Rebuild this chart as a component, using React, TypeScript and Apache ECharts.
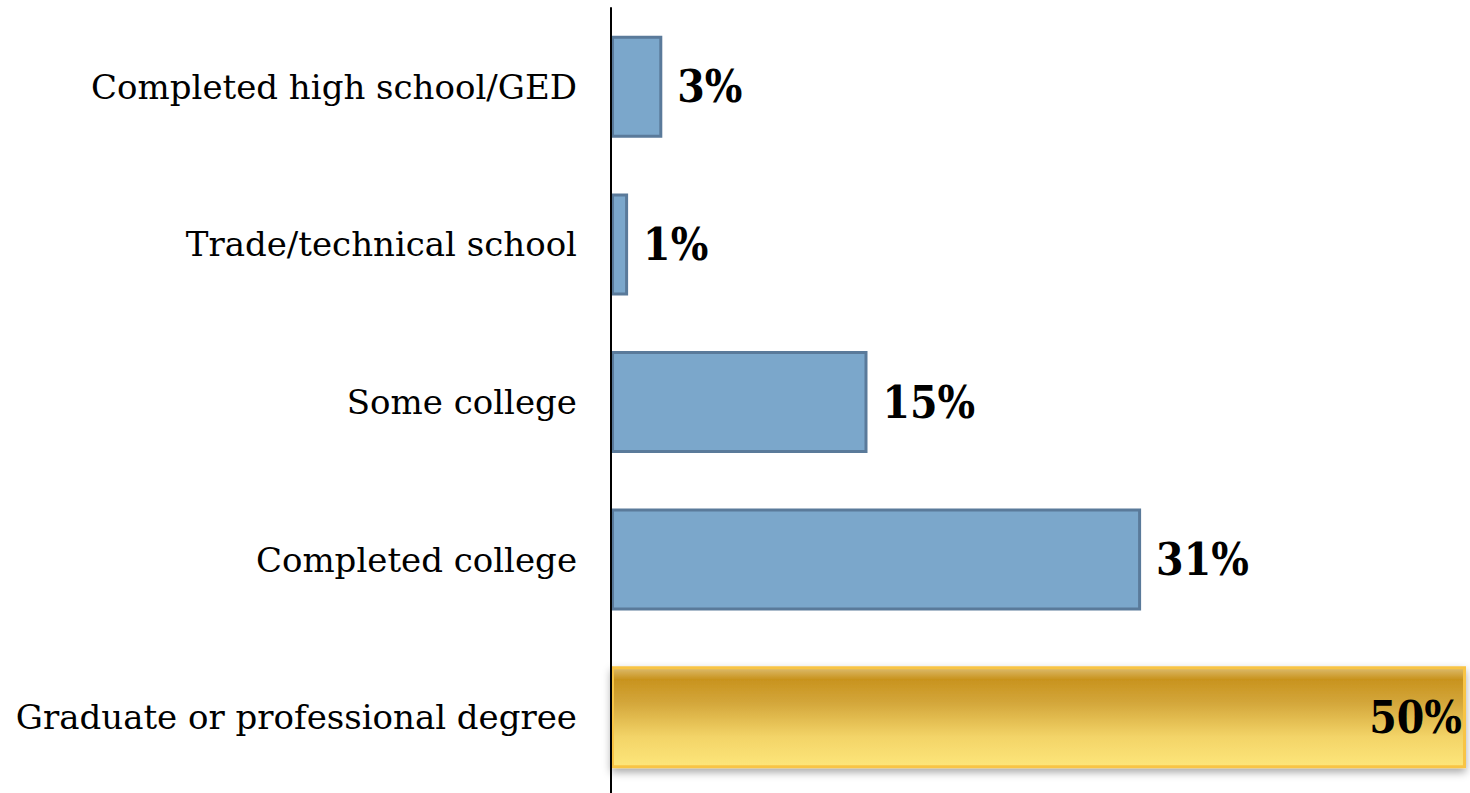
import React, { useEffect, useRef } from "react";
import * as echarts from "echarts";

const categories = [
  "Completed high school/GED",
  "Trade/technical school",
  "Some college",
  "Completed college",
  "Graduate or professional degree",
];
const values = [3, 1, 15, 31, 50];
const highlightIndex = 4;

export default function App() {
  const ref = useRef<HTMLDivElement>(null);
  useEffect(() => {
    if (!ref.current) return;
    const chart = echarts.init(ref.current, undefined, { renderer: "svg" });
    const labelFont = '"DejaVu Serif Condensed", "DejaVu Serif", serif';
    const catFont = '"DejaVu Serif", serif';
    const data = values.map((v, i) => {
      if (i === highlightIndex) {
        return {
          value: v,
          itemStyle: {
            color: new echarts.graphic.LinearGradient(0, 0, 0, 1, [
              { offset: 0, color: "#DDBC6E" },
              { offset: 0.12, color: "#C8931E" },
              { offset: 0.35, color: "#D3A63A" },
              { offset: 0.7, color: "#F3D468" },
              { offset: 1, color: "#FDE67A" },
            ]),
            borderColor: "#F8C444",
            borderWidth: 3,
            shadowColor: "rgba(0,0,0,0.35)",
            shadowBlur: 8,
            shadowOffsetY: 4,
          },
          label: { position: "insideRight", distance: 4 },
        };
      }
      return { value: v };
    });
    chart.setOption({
      animation: false,
      grid: { left: 611, right: 4, top: 8, bottom: 0, containLabel: false },
      xAxis: {
        type: "value",
        min: 0,
        max: 50,
        show: false,
      },
      yAxis: {
        type: "category",
        data: categories,
        inverse: true,
        axisLine: { show: true, lineStyle: { color: "#000", width: 2 } },
        axisTick: { show: false },
        axisLabel: {
          color: "#000",
          fontSize: 34,
          fontFamily: catFont,
          margin: 34,
        },
        z: 10,
      },
      series: [
        {
          type: "bar",
          data,
          barWidth: 102,
          itemStyle: {
            color: "#7BA7CB",
            borderColor: "#5A7A9A",
            borderWidth: 3,
          },
          label: {
            show: true,
            position: "right",
            distance: 15,
            formatter: "{c}%",
            color: "#000",
            fontSize: 44,
            fontWeight: "bold",
            fontFamily: labelFont,
          },
        },
      ],
    });
    return () => chart.dispose();
  }, []);
  return (
    <div
      ref={ref}
      style={{ position: "fixed", left: 0, top: 0, width: 1470, height: 796, background: "#fff" }}
    />
  );
}
